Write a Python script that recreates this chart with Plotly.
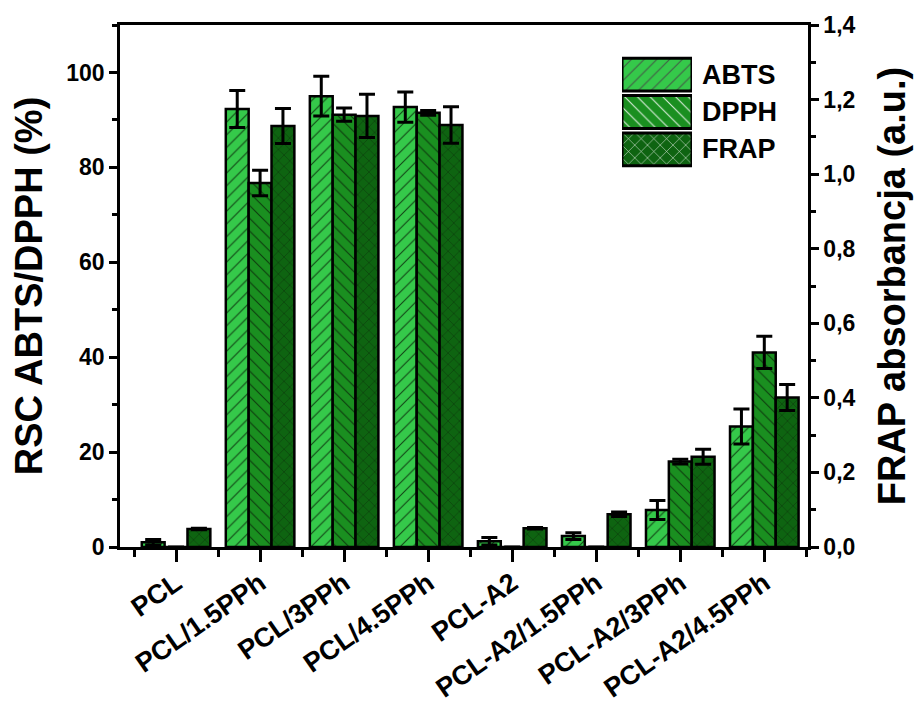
import plotly.graph_objects as go

# Samples and measured antioxidant activity
categories = ["PCL", "PCL/1.5PPh", "PCL/3PPh", "PCL/4.5PPh",
              "PCL-A2", "PCL-A2/1.5PPh", "PCL-A2/3PPh", "PCL-A2/4.5PPh"]

abts = [1.0, 92.3, 95.0, 92.7, 1.2, 2.3, 7.8, 25.4]
abts_err = [0.6, 3.9, 4.2, 3.2, 0.8, 0.7, 2.0, 3.7]

dpph = [0.0, 76.7, 91.1, 91.5, 0.0, 0.0, 18.0, 41.0]
dpph_err = [0.0, 2.7, 1.4, 0.5, 0.0, 0.0, 0.5, 3.4]

frap = [0.048, 1.129, 1.156, 1.132, 0.050, 0.088, 0.242, 0.401]
frap_err = [0.002, 0.047, 0.058, 0.049, 0.002, 0.006, 0.020, 0.035]

series_names = ["ABTS", "DPPH", "FRAP"]
series_colors = ["#35c94a", "#1a8f20", "#0e6411"]
series_patterns = ["/", "\\", "x"]

left_ticks = [0, 20, 40, 60, 80, 100]
right_ticks = [0.0, 0.2, 0.4, 0.6, 0.8, 1.0, 1.2, 1.4]

FONT = "Liberation Sans, Arial, sans-serif"
positions = list(range(len(categories)))
bar_w = 0.272
offsets = [-1.5 * bar_w, -0.5 * bar_w, 0.5 * bar_w]

fig = go.Figure()

values = [abts, dpph, frap]
errors = [abts_err, dpph_err, frap_err]
axes = ["y", "y", "y2"]

for i in range(3):
    fig.add_trace(go.Bar(
        x=positions, y=values[i], name=series_names[i], yaxis=axes[i],
        width=bar_w, offset=offsets[i],
        marker=dict(
            color=series_colors[i],
            line=dict(color="black", width=2.5),
            pattern=dict(shape=series_patterns[i], fillmode="overlay",
                         fgcolor="#0a2a0a", fgopacity=0.85,
                         size=9 if series_patterns[i] != "x" else 8,
                         solidity=0.12),
        ),
        error_y=dict(type="data", array=errors[i], visible=True,
                     color="black", thickness=3, width=8),
        showlegend=False,
    ))

# Legend swatches drawn as bars on a small hidden axis pair
fig.add_trace(go.Bar(
    x=[1, 1, 1], y=[0, 1, 2], orientation="h",
    xaxis="x3", yaxis="y3", width=0.88,
    marker=dict(
        color=series_colors,
        line=dict(color="black", width=3),
        pattern=dict(shape=series_patterns, fillmode="overlay",
                     fgcolor="#0a2a0a", fgopacity=0.85, size=9,
                     solidity=0.12),
    ),
    showlegend=False, hoverinfo="skip",
))

for k, name in enumerate(series_names):
    fig.add_annotation(
        x=0.843, y=k, xref="paper", yref="y3", text=name,
        showarrow=False, xanchor="left", yanchor="middle",
        font=dict(family=FONT, size=27, color="black", weight="bold"),
    )

axis_common = dict(
    showline=True, linecolor="black", linewidth=2.5,
    ticks="outside", tickcolor="black", tickwidth=2.5,
    showgrid=False, zeroline=False, automargin=False,
)

fig.update_layout(
    width=920, height=716,
    margin=dict(l=120, r=112, t=25, b=169),
    paper_bgcolor="white", plot_bgcolor="white",
    barmode="group",
    separators=", ",
    showlegend=False,
    xaxis=dict(
        **axis_common,
        range=[-0.667, 7.52],
        tickvals=positions, ticktext=categories,
        ticklen=12, tickangle=-35, ticklabelstandoff=-5,
        mirror=True,
        minor=dict(ticks="outside", ticklen=7, tickwidth=2.5,
                   tickcolor="black", tick0=0.5, dtick=1),
        tickfont=dict(family=FONT, size=27, color="black", weight="bold"),
    ),
    yaxis=dict(
        **axis_common,
        range=[0, 110],
        tickvals=left_ticks, ticklen=8,
        minor=dict(ticks="outside", ticklen=5, tickwidth=2.5,
                   tickcolor="black", tick0=10, dtick=20),
        tickfont=dict(family=FONT, size=23, color="black", weight="bold"),
        title=dict(text="RSC ABTS/DPPH (%)", standoff=12,
                   font=dict(family=FONT, size=38, color="black", weight="bold")),
    ),
    yaxis2=dict(
        **axis_common,
        overlaying="y", side="right", anchor="x",
        range=[0, 1.4],
        tickvals=right_ticks, tickformat=".1f", ticklen=8,
        minor=dict(ticks="outside", ticklen=5, tickwidth=2.5,
                   tickcolor="black", tick0=0.1, dtick=0.2),
        tickfont=dict(family=FONT, size=23, color="black", weight="bold"),
        title=dict(text="FRAP absorbancja (a.u.)", standoff=24,
                   font=dict(family=FONT, size=38, color="black", weight="bold")),
    ),
    xaxis3=dict(domain=[0.7297, 0.8314], range=[0, 1], visible=False,
                anchor="y3", fixedrange=True),
    yaxis3=dict(domain=[0.7261, 0.9406], range=[2.5, -0.5], visible=False,
                anchor="x3", fixedrange=True),
)

fig.write_html("out.html")
